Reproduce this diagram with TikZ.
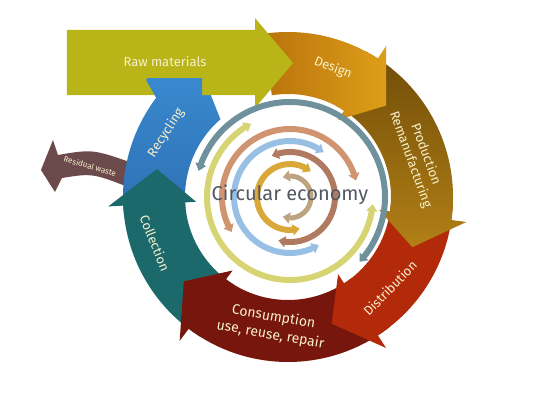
\documentclass[tikz,border=0pt]{standalone}
\usepackage{fontspec}
\setmainfont{Fira Sans}
\usetikzlibrary{arrows.meta,bending}

\definecolor{rawcol}{RGB}{185,181,24}
\definecolor{designA}{RGB}{185,115,12}
\definecolor{designB}{RGB}{222,158,24}
\definecolor{prodA}{RGB}{112,76,8}
\definecolor{prodB}{RGB}{178,128,22}
\definecolor{distcol}{RGB}{178,42,10}
\definecolor{conscol}{RGB}{118,22,12}
\definecolor{collcol}{RGB}{28,105,108}
\definecolor{recycA}{RGB}{62,145,215}
\definecolor{recycB}{RGB}{45,112,180}
\definecolor{residcol}{RGB}{108,74,76}
\definecolor{ringgray}{RGB}{110,145,155}
\definecolor{ringyellow}{RGB}{215,212,115}
\definecolor{ringsalmon}{RGB}{208,148,112}
\definecolor{ringblue}{RGB}{152,192,228}
\definecolor{ringbrown}{RGB}{176,122,96}
\definecolor{ringgold}{RGB}{218,168,56}
\definecolor{ringtan}{RGB}{188,164,128}
\definecolor{labelcol}{RGB}{248,240,205}
\definecolor{titlecol}{RGB}{82,88,98}

\tikzset{
seglabel/.style={text=labelcol, align=center, inner sep=0pt, font=\fontsize{13}{16}\selectfont},
inarc/.style={line width=6pt, {Triangle[length=7pt,width=11pt]}-{Triangle[length=7pt,width=11pt]}}
}

% radii of the big ring
\def\Ro{165} \def\Rob{180} \def\Ri{103} \def\Rib{92} \def\Rm{134}

% one curved arrow of the ring: start, head base, tip, fill options
\newcommand{\ringseg}[4]{%
  \path[#4] (#1:\Ro) arc[start angle=#1, end angle=#2, radius=\Ro] -- (#2:\Rob) -- (#3:\Rm)
    -- (#2:\Rib) -- (#2:\Ri) arc[start angle=#2, end angle=#1, radius=\Ri] -- cycle;}

\newcommand{\recycling}[1]{%
  \path[#1] (186:\Ro) arc[start angle=186, end angle=143, radius=\Ro] -- (-142,117) -- (-95,165)
    -- (-60,110) -- (-78,104) -- (131:\Ri) arc[start angle=131, end angle=186, radius=\Ri] -- cycle;}

\begin{document}
\begin{tikzpicture}[x=1pt,y=1pt]
\useasboundingbox (-288,-210) rectangle (257,197);
\coordinate (ctr) at (2,0);

% residual waste
\fill[residcol] (-150,32) .. controls (-195,48) .. (-230,42) -- (-235,57) -- (-247,27) -- (-233,5)
  -- (-226,19) .. controls (-195,24) .. (-150,6) -- cycle;

% ring
\recycling{top color=recycA, bottom color=recycB}
\ringseg{-122}{-177}{-192}{fill=collcol}
\ringseg{-52}{-127}{-141}{fill=conscol}
\ringseg{-3}{-57}{-71}{fill=distcol}
\ringseg{62}{-8}{-22}{top color=prodA, bottom color=prodB}
\ringseg{99}{57}{43}{left color=designA, right color=designB}

% raw materials
\fill[rawcol] (-221,167) -- (-33,167) -- (-33,179) -- (5,134) -- (-33,89) -- (-33,102) -- (-221,102) -- cycle;
\begin{scope}
  \clip (-160,101) rectangle (-86,119);
  \recycling{top color=recycA, bottom color=recycB}
\end{scope}

% inner circles
\draw[inarc, ringgray] (ctr) ++(164:95) arc[start angle=164, end angle=-43, radius=95];
\draw[inarc, ringyellow] (ctr) ++(118:83) arc[start angle=118, end angle=355, radius=83];
\draw[inarc, ringsalmon] (ctr) ++(211:68) arc[start angle=211, end angle=14, radius=68];
\draw[inarc, ringblue] (ctr) ++(53:56) arc[start angle=53, end angle=301, radius=56];
\draw[inarc, ringbrown] (ctr) ++(114:45) arc[start angle=114, end angle=-105, radius=45];
\draw[inarc, ringgold] (ctr) ++(51:33) arc[start angle=51, end angle=287, radius=33];
\draw[inarc, ringtan, line width=5pt] (ctr) ++(110:21) arc[start angle=110, end angle=-110, radius=21];

% labels
\node (raw) [seglabel] at (-123,135) {Raw materials};
\node (design) [seglabel, rotate=-22] at (45,129) {Design};
\node (prod) [seglabel, rotate=-70] at (130,40) {Production\\Remanufacturing};
\node (dist) [seglabel, rotate=46] at (102,-91) {Distribution};
\node (cons) [seglabel, rotate=-10, font=\fontsize{14}{18}\selectfont] at (-16,-129) {Consumption\\use, reuse, repair};
\node (coll) [seglabel, rotate=-68] at (-133,-46) {Collection};
\node (recyc) [seglabel, rotate=57] at (-122,64) {Recycling};
\node (resid) [seglabel, rotate=-16, font=\fontsize{8}{9}\selectfont] at (-198,31) {Residual waste};
\node (ce) [text=titlecol, font=\fontsize{20}{24}\selectfont] at (2,2) {Circular economy};

\end{tikzpicture}
\end{document}
